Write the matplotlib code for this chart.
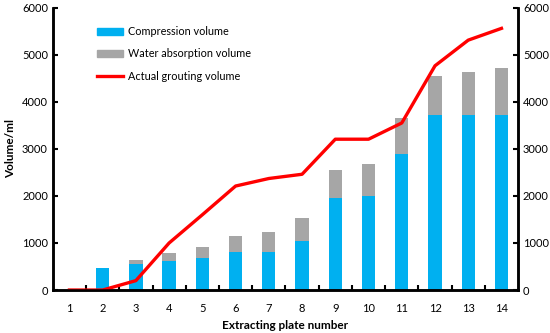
import numpy as np
import matplotlib.pyplot as plt
from matplotlib.patches import Patch
from matplotlib.lines import Line2D

plates = list(range(1, 15))
compression = [0, 460, 560, 620, 675, 800, 810, 1035, 1960, 2000, 2900, 3710, 3710, 3710]
total_bar = [0, 460, 640, 785, 925, 1140, 1235, 1540, 2555, 2675, 3650, 4550, 4635, 4720]
grouting = [0, 0, 200, 1000, 1600, 2210, 2370, 2460, 3205, 3205, 3550, 4765, 5310, 5560]

water = [t - c for t, c in zip(total_bar, compression)]

plt.rcParams['font.family'] = ['Lato', 'DejaVu Sans']

fig = plt.figure(figsize=(5.5, 3.33), dpi=100)
ax = fig.add_axes([0.096, 0.129, 0.846, 0.848])

x = np.array(plates)
ax.bar(x, compression, width=0.4, color='#00B0F0', zorder=2)
ax.bar(x, water, width=0.4, bottom=compression, color='#A6A6A6', zorder=2)
ax.plot(x, grouting, color='#FF0000', lw=2.4, zorder=3)

ax.set_xlim(0.5, 14.5)
ax.set_ylim(0, 6000)
ax.set_yticks(range(0, 6001, 1000))
ax.set_xticks(x)
ax.set_xticks(np.arange(1.5, 14.5, 1), minor=True)
ax.tick_params(axis='x', which='major', length=0, labelsize=8, pad=9)
ax.tick_params(axis='x', which='minor', direction='in', length=3.5, width=1.5)
ax.tick_params(axis='y', direction='in', length=3.5, width=1.5, labelsize=8)

ax2 = ax.twinx()
ax2.set_ylim(0, 6000)
ax2.set_yticks(range(0, 6001, 1000))
ax2.tick_params(axis='y', direction='in', length=3.5, width=1.5, labelsize=8)

for a in (ax, ax2):
    for s in a.spines.values():
        s.set_linewidth(1.8)
    a.spines['top'].set_visible(False)

ax.set_xlabel('Extracting plate number', fontsize=8.5, fontweight='bold', labelpad=5)
ax.set_ylabel('Volume/ml', fontsize=8.5, fontweight='bold', labelpad=4)

handles = [Patch(color='#00B0F0'), Patch(color='#A6A6A6'), Line2D([], [], color='#FF0000', lw=2.4)]
labels = ['Compression volume', 'Water absorption volume', 'Actual grouting volume']
ax2.legend(handles, labels, loc='upper left', bbox_to_anchor=(0.075, 0.97), frameon=False,
           fontsize=7.8, handlelength=2.4, handleheight=0.6, labelspacing=1.05, handletextpad=0.4)

fig.savefig('out.png', dpi=100)
